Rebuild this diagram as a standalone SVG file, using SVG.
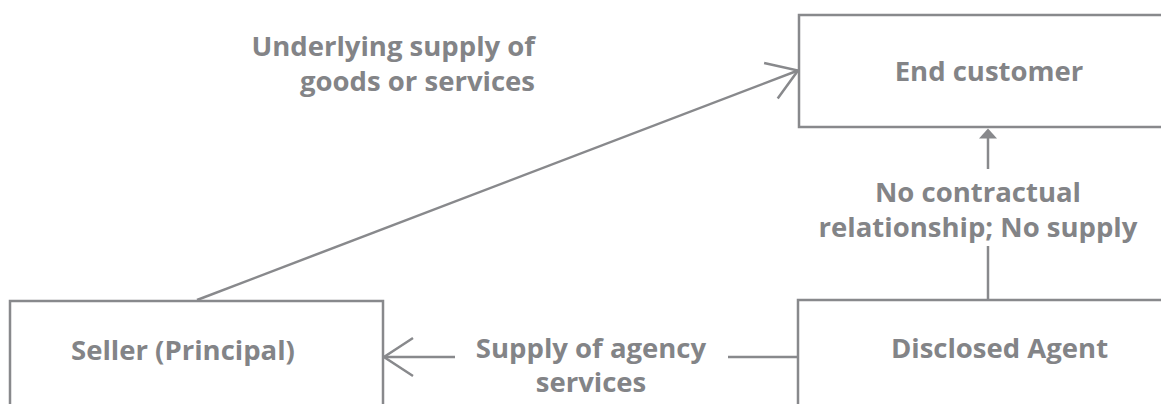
<svg xmlns="http://www.w3.org/2000/svg" width="1161" height="404" viewBox="0 0 1161 404">
<defs>
<style>
.box{fill:#fff;stroke:#88898c;stroke-width:2.5}
.ln{fill:none;stroke:#88898c;stroke-width:2.5}
.t{font-family:"Open Sans","Noto Sans","Liberation Sans",sans-serif;font-weight:700;font-size:27.5px;fill:#838487}
.m{text-anchor:middle}
.e{text-anchor:end}
</style>
<marker id="open" markerUnits="userSpaceOnUse" markerWidth="40" markerHeight="44" refX="0" refY="0" viewBox="-32 -22 34 44" orient="auto" overflow="visible">
<path d="M-29,-19 L0,0 L-29,19" fill="none" stroke="#88898c" stroke-width="2.5"/>
</marker>
</defs>
<rect width="1161" height="404" fill="#fff"/>
<g id="connectors">
<line class="ln" x1="197" y1="300" x2="798" y2="70.5" marker-end="url(#open)"/>
<line class="ln" x1="798" y1="357" x2="728" y2="357"/>
<line class="ln" x1="455" y1="357" x2="384" y2="357" marker-end="url(#open)"/>
<line class="ln" x1="988" y1="300" x2="988" y2="246"/>
<line class="ln" x1="988" y1="169" x2="988" y2="137"/>
<polygon points="988,128.5 997,138.5 979,138.5" fill="#88898c"/>
</g>
<g id="end-customer">
<rect class="box" x="799" y="15" width="400" height="112"/>
<text class="t m" x="989" y="81">End customer</text>
</g>
<g id="seller">
<rect class="box" x="10" y="301" width="373" height="150"/>
<text class="t m" x="183" y="360">Seller (Principal)</text>
</g>
<g id="agent">
<rect class="box" x="798" y="300" width="400" height="150"/>
<text class="t m" x="999.5" y="358">Disclosed Agent</text>
</g>
<g id="labels">
<text class="t e" x="535" y="56">Underlying supply of</text>
<text class="t e" x="535" y="91">goods or services</text>
<text class="t m" x="978" y="202">No contractual</text>
<text class="t m" x="978" y="237">relationship; No supply</text>
<text class="t m" x="591" y="358">Supply of agency</text>
<text class="t m" x="591" y="392">services</text>
</g>
</svg>
